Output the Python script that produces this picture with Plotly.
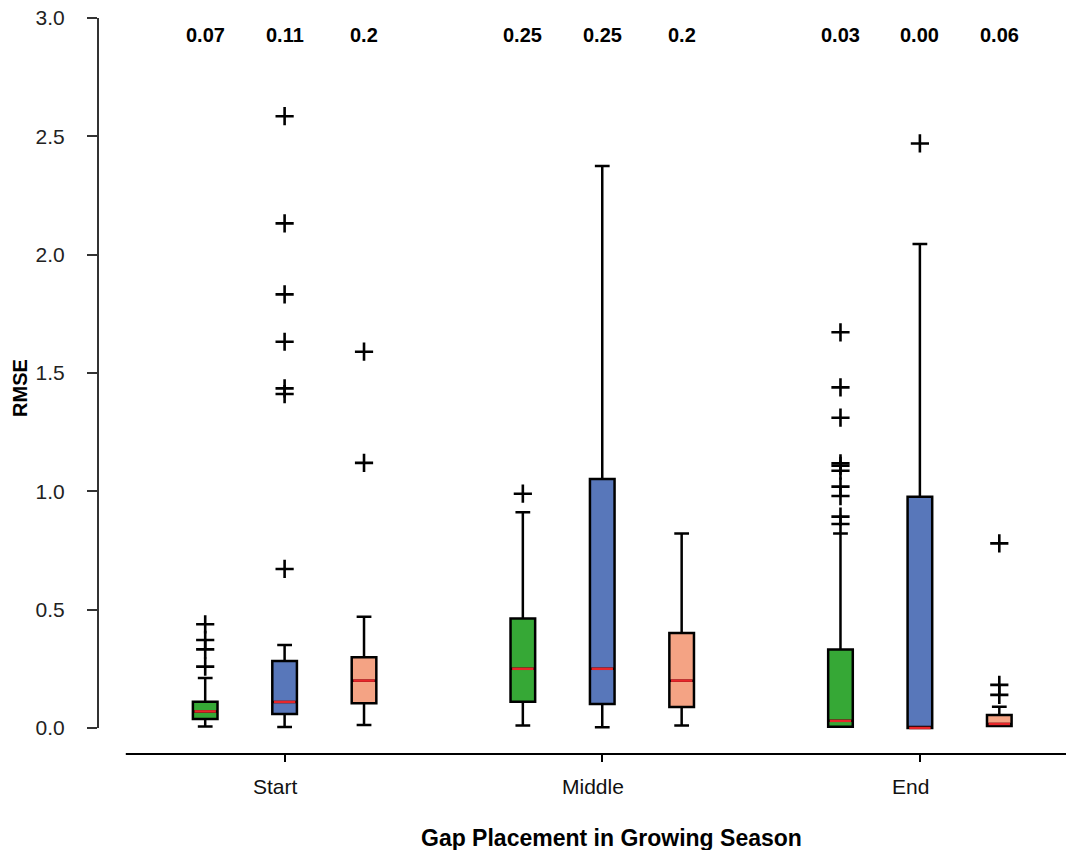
import plotly.graph_objects as go

# Box positions: three methods per gap placement, one empty slot between groups
positions = [1, 2, 3, 5, 6, 7, 9, 10, 11]
group_labels = ["Start", "Middle", "End"]
group_centers = [2, 6, 10]

# Summary statistics of RMSE for each box
lower_whisker = [0.006, 0.004, 0.013, 0.010, 0.003, 0.010, 0.005, 0.000, 0.008]
q1 = [0.038, 0.059, 0.104, 0.111, 0.101, 0.089, 0.005, 0.000, 0.008]
median = [0.07, 0.11, 0.20, 0.25, 0.25, 0.20, 0.03, 0.00, 0.017]
q3 = [0.111, 0.283, 0.299, 0.463, 1.052, 0.401, 0.332, 0.977, 0.055]
upper_whisker = [0.211, 0.351, 0.470, 0.911, 2.375, 0.822, 0.822, 2.045, 0.090]

outliers = [
    [0.259, 0.332, 0.372, 0.438],
    [0.672, 1.411, 1.435, 1.632, 1.832, 2.132, 2.585],
    [1.12, 1.59],
    [0.99],
    [],
    [],
    [0.862, 0.893, 0.98, 1.02, 1.087, 1.108, 1.118, 1.311, 1.439, 1.672],
    [2.47],
    [0.14, 0.182, 0.78],
]

# Values printed above each box
top_labels = ["0.07", "0.11", "0.2", "0.25", "0.25", "0.2", "0.03", "0.00", "0.06"]

method_colors = ["#36a836", "#5877ba", "#f4a384"]
median_color = "#e8262a"
box_width = 0.31

FONT = "Liberation Sans, Arial, sans-serif"

fig = go.Figure()

for i, pos in enumerate(positions):
    color = method_colors[i % 3]
    fig.add_trace(go.Box(
        x=[pos],
        q1=[q1[i]], median=[median[i]], q3=[q3[i]],
        lowerfence=[lower_whisker[i]], upperfence=[upper_whisker[i]],
        width=box_width, whiskerwidth=0.6,
        fillcolor=color,
        line=dict(color="black", width=2.5),
        boxpoints=False,
        hoverinfo="skip",
        showlegend=False,
    ))

# Red median bars drawn over the boxes
med_x, med_y = [], []
half = box_width / 2 - 0.02
for pos, m in zip(positions, median):
    med_x += [pos - half, pos + half, None]
    med_y += [m, m, None]
fig.add_trace(go.Scatter(
    x=med_x, y=med_y, mode="lines",
    line=dict(color=median_color, width=2.5),
    hoverinfo="skip", showlegend=False,
))

# Outliers as plus markers
out_x, out_y = [], []
for pos, pts in zip(positions, outliers):
    out_x += [pos] * len(pts)
    out_y += pts
fig.add_trace(go.Scatter(
    x=out_x, y=out_y, mode="markers",
    marker=dict(symbol="cross-thin", size=13,
                line=dict(color="black", width=2.6)),
    hoverinfo="skip", showlegend=False,
))

annotations = []
for pos, txt in zip(positions, top_labels):
    annotations.append(dict(
        x=pos, y=2.93, xref="x", yref="y", text=txt, showarrow=False,
        font=dict(family=FONT, size=20, color="black", weight="bold"),
    ))
for c, lab in zip(group_centers, group_labels):
    annotations.append(dict(
        x=c, y=0, xref="x", yref="paper", yanchor="middle", yshift=-32,
        xshift=-9, text=lab, showarrow=False,
        font=dict(family=FONT, size=21, color="#111111"),
    ))
annotations.append(dict(
    x=0.53, y=0, xref="paper", yref="paper", yanchor="middle", yshift=-84,
    text="Gap Placement in Growing Season", showarrow=False,
    font=dict(family=FONT, size=23, color="black", weight="bold"),
))
annotations.append(dict(
    x=0, y=1.437, xref="paper", yref="y", xanchor="center", xshift=-78,
    text="RMSE", textangle=-90, showarrow=False,
    font=dict(family=FONT, size=20, color="black", weight="bold"),
))

x_end = 11.84
shapes = [
    # y axis spine spans only the 0-3 data range
    dict(type="line", xref="paper", yref="y", x0=0, x1=0, y0=0, y1=3.0,
         line=dict(color="#333333", width=2)),
    # x axis spine
    dict(type="line", xref="x", yref="paper", x0=0, x1=x_end, y0=0, y1=0,
         line=dict(color="black", width=2)),
]

fig.update_layout(
    width=1066, height=850,
    margin=dict(l=98, r=0, t=18, b=96),
    paper_bgcolor="white", plot_bgcolor="white",
    boxmode="overlay",
    showlegend=False,
    annotations=annotations,
    shapes=shapes,
    xaxis=dict(
        range=[-0.35, x_end], showgrid=False, zeroline=False, showline=False,
        tickmode="array", tickvals=group_centers, ticktext=["", "", ""],
        ticks="outside", ticklen=7, tickwidth=2, tickcolor="black",
    ),
    yaxis=dict(
        range=[-0.11, 3.0], showgrid=False, zeroline=False, showline=False,
        tickmode="array", tickvals=[0, 0.5, 1.0, 1.5, 2.0, 2.5, 3.0],
        ticktext=["0.0", "0.5", "1.0", "1.5", "2.0", "2.5", "3.0"],
        ticks="outside", ticklen=10, tickwidth=2, tickcolor="#333333",
        tickfont=dict(family=FONT, size=21, color="#222222"),
        ticklabelstandoff=18,
    ),
)

fig.write_html("out.html")
